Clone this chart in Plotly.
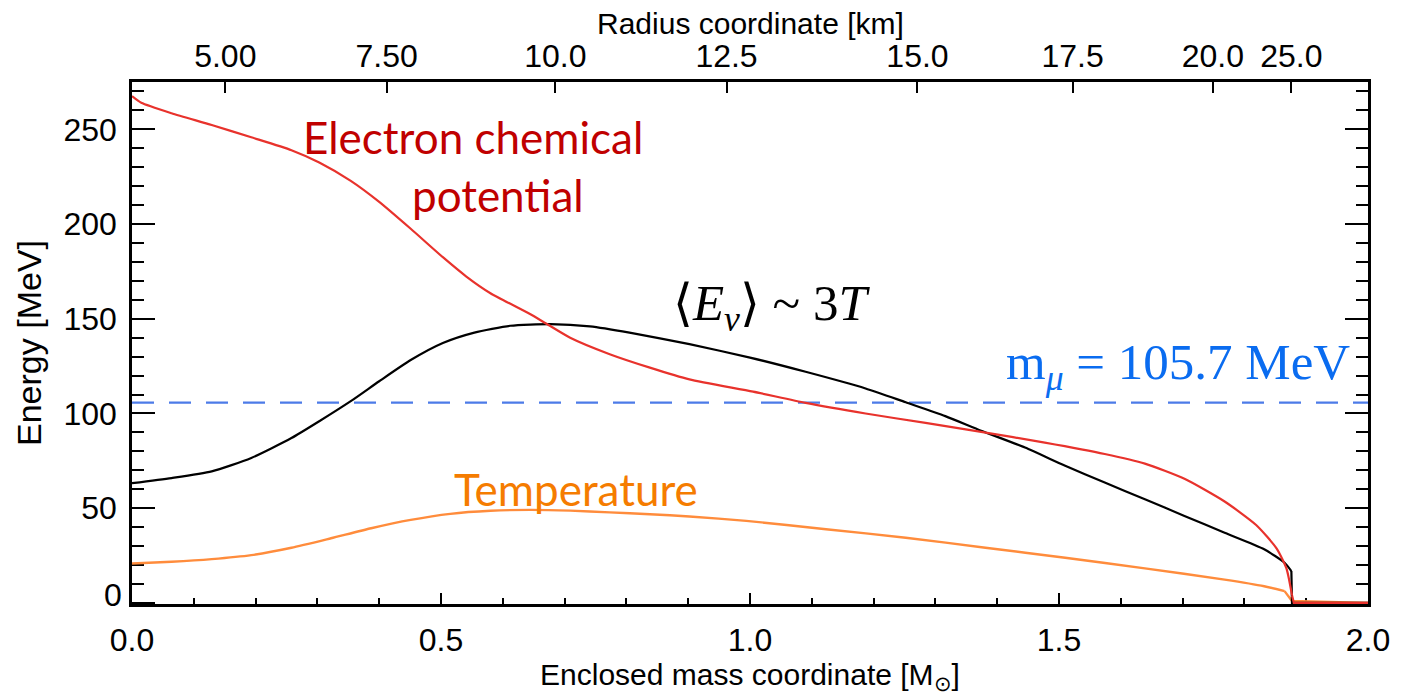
import plotly.graph_objects as go

# ---------------- data ----------------
mass_red = [0.000, 0.015, 0.064, 0.129, 0.193, 0.258, 0.303, 0.354, 0.400,
            0.451, 0.503, 0.541, 0.580, 0.644, 0.670, 0.709, 0.773, 0.838, 0.902,
            1.005, 1.090, 1.187, 1.284, 1.374, 1.477, 1.574, 1.639, 1.703, 1.768,
            1.819, 1.852, 1.868, 1.877, 1.880, 2.000]
mu_e = [267.5, 264.0, 258.5, 252.3, 245.8, 239.0, 232.5, 222.8, 211.7,
        197.5, 182.5, 172.3, 163.5, 152.5, 147.5, 140.0, 131.3, 124.2, 118.0,
        111.5, 105.6, 100.0, 95.0, 90.3, 84.6, 78.6, 73.5, 65.5, 53.5,
        41.1, 28.8, 18.2, 4.0, 0.0, 0.0]

mass_black = [0.000, 0.064, 0.129, 0.193, 0.258, 0.303, 0.354, 0.400, 0.451, 0.503,
              0.554, 0.612, 0.677, 0.741, 0.805, 0.902, 1.000, 1.090, 1.187, 1.252,
              1.316, 1.374, 1.445, 1.510, 1.574, 1.639, 1.703, 1.768, 1.832, 1.865,
              1.876, 1.877, 2.000]
e_nu = [63.2, 65.9, 69.4, 76.5, 87.0, 95.9, 106.5, 117.0, 128.2, 137.2,
        142.7, 146.3, 147.2, 146.0, 142.7, 136.6, 129.5, 122.0, 113.2, 105.9,
        98.6, 90.9, 82.0, 72.4, 63.5, 54.7, 45.9, 37.0, 28.3, 21.2,
        16.8, 0.0, 0.0]

mass_orange = [0.000, 0.064, 0.129, 0.193, 0.258, 0.322, 0.387, 0.451, 0.515, 0.580,
               0.644, 0.709, 0.773, 0.838, 0.902, 0.994, 1.123, 1.252, 1.381, 1.510,
               1.639, 1.768, 1.832, 1.865, 1.877, 2.000]
temperature = [20.8, 21.7, 23.1, 25.2, 29.1, 34.1, 39.4, 43.8, 47.0, 48.6,
               49.1, 48.7, 47.8, 46.8, 45.6, 43.3, 38.9, 34.4, 29.1, 23.8,
               18.2, 12.3, 8.8, 6.2, 1.0, 0.0]

muon_mass = 105.7
mass_span = [0.0, 2.0]

# top axis: radius labels at their enclosed-mass positions
radius_pos = [0.151, 0.412, 0.685, 0.962, 1.271, 1.522, 1.749, 1.876]
radius_labels = ["5.00", "7.50", "10.0", "12.5", "15.0", "17.5", "20.0", "25.0"]

mass_ticks = [0.0, 0.5, 1.0, 1.5, 2.0]
energy_ticks = [0, 50, 100, 150, 200, 250]
energy_labels = ["", "50", "100", "150", "200", "250"]

# index where each curve leaves its smooth part and drops to the surface
red_cut, black_cut, orange_cut = 32, 30, 23

# ---------------- figure ----------------
AX_FONT = "Liberation Sans, Arial, Helvetica, sans-serif"
LBL_FONT = "Lato, Calibri, sans-serif"
SERIF = "Liberation Serif, DejaVu Serif, serif"

RED, BLACK, ORANGE = "#E8322C", "black", "#FF8C3C"

fig = go.Figure()


def add_curve(xs, ys, cut, color, width):
    # smooth body
    fig.add_trace(go.Scatter(x=xs[:cut + 1], y=ys[:cut + 1], mode="lines",
                             line=dict(color=color, width=width, shape="spline", smoothing=0.6),
                             showlegend=False))
    # sharp drop at the surface and flat tail
    fig.add_trace(go.Scatter(x=xs[cut:], y=ys[cut:], mode="lines",
                             line=dict(color=color, width=width),
                             showlegend=False))


fig.add_trace(go.Scatter(x=mass_span, y=[muon_mass, muon_mass], mode="lines",
                         line=dict(color="#4C7BE8", width=2.2, dash="22px,15px"),
                         hoverinfo="skip", showlegend=False))
add_curve(mass_orange, temperature, orange_cut, ORANGE, 2.4)
add_curve(mass_black, e_nu, black_cut, BLACK, 2.2)
add_curve(mass_red, mu_e, red_cut, RED, 2.2)

# invisible trace to carry the top (radius) axis
fig.add_trace(go.Scatter(x=mass_span, y=[muon_mass, muon_mass], xaxis="x2", mode="lines",
                         line=dict(width=0), opacity=0, hoverinfo="skip", showlegend=False))

fig.update_layout(
    width=1402, height=697,
    margin=dict(l=132, r=27, t=82, b=89),
    paper_bgcolor="white", plot_bgcolor="white",
    font=dict(family=AX_FONT, color="black"),
    xaxis=dict(
        range=[0, 2], tickmode="array", tickvals=mass_ticks, tickformat=".1f",
        ticks="inside", ticklen=11, tickwidth=2, tickcolor="black",
        showline=True, linecolor="black", linewidth=2.5, mirror=True,
        showgrid=False, zeroline=False, layer="below traces",
        minor=dict(tickmode="linear", tick0=0, dtick=0.1, ticks="inside",
                   ticklen=6, tickwidth=1.5, tickcolor="black"),
        tickfont=dict(size=32, family=AX_FONT), ticklabelstandoff=6,
        title=dict(text="Enclosed mass coordinate [M<sub>⊙</sub>]",
                   font=dict(size=30, family=AX_FONT), standoff=6),
    ),
    xaxis2=dict(
        overlaying="x", side="top", range=[0, 2], tickmode="array",
        tickvals=radius_pos, ticktext=radius_labels,
        ticks="inside", ticklen=11, tickwidth=2, tickcolor="black",
        showline=False, showgrid=False, zeroline=False,
        tickfont=dict(size=32, family=AX_FONT), ticklabelstandoff=8,
    ),
    yaxis=dict(
        range=[-0.6, 275], tickmode="array", tickvals=energy_ticks, ticktext=energy_labels,
        ticks="inside", ticklen=23, tickwidth=2, tickcolor="black",
        showline=True, linecolor="black", linewidth=2.5, mirror="ticks",
        showgrid=False, zeroline=False, layer="below traces",
        minor=dict(tickmode="linear", tick0=0, dtick=10, ticks="inside",
                   ticklen=12, tickwidth=1.5, tickcolor="black"),
        tickfont=dict(size=32, family=AX_FONT), ticklabelstandoff=6,
        title=dict(text="Energy [MeV]", font=dict(size=34, family=AX_FONT), standoff=12),
    ),
)

annotations = [
    dict(text="Radius coordinate [km]", x=0.5, xref="paper", xanchor="center",
         y=1.112, yref="paper", yanchor="middle",
         font=dict(size=30, family=AX_FONT, color="black"), showarrow=False),
    dict(text="0", x=0, xref="paper", xanchor="right", xshift=-8,
         y=0, yref="y", yanchor="middle", yshift=8,
         font=dict(size=32, family=AX_FONT, color="black"), showarrow=False),
    dict(text="Electron chemical", x=0.551, y=246, xref="x", yref="y",
         font=dict(size=44, family=LBL_FONT, color="#C00000"), showarrow=False),
    dict(text="potential", x=0.592, y=215.5, xref="x", yref="y",
         font=dict(size=44, family=LBL_FONT, color="#C00000"), showarrow=False),
    dict(text="Temperature", x=0.718, y=60, xref="x", yref="y",
         font=dict(size=44, family=LBL_FONT, color="#F57C00"), showarrow=False),
    dict(text="⟨<i>E</i><sub><i>ν</i></sub>⟩ ~ 3<i>T</i>", x=1.034, y=156, xref="x", yref="y",
         font=dict(size=51, family=SERIF, color="black"), showarrow=False),
    dict(text="m<sub><i>μ</i></sub> = 105.7 MeV", x=1.692, y=125, xref="x", yref="y",
         font=dict(size=51, family=SERIF, color="#0A6CF0"), showarrow=False),
]
fig.update_layout(annotations=annotations)

fig.write_html("out.html")
